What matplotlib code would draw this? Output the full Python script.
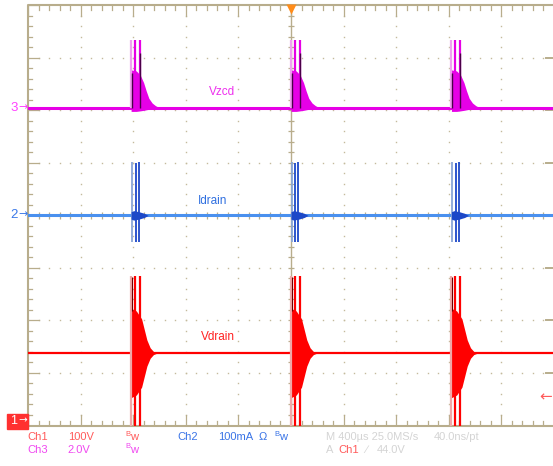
import numpy as np
import matplotlib.pyplot as plt

# Oscilloscope screen: 10 x 8 divisions, 400 us/div
us_per_div = 400
burst_starts_us = [-1216, 0, 1220]

# channel baselines, in screen divisions from the centre
ch3_level = 2.05
ch2_level = 0.0
ch1_level = -2.62

# Vzcd (Ch3) burst, heights in div above its baseline, times in us after burst start
vzcd_env_t = [0, 40, 70, 95, 115, 135, 160, 185, 215]
vzcd_env_hi = [0.72, 0.70, 0.62, 0.48, 0.32, 0.18, 0.09, 0.04, 0.0]
vzcd_env_lo = [-0.07, -0.07, -0.06, -0.05, -0.04, -0.03, -0.02, -0.01, 0.0]
vzcd_spike_t = [0, 30, 65]
vzcd_spike_hi = [1.29, 1.29, 1.29]
vzcd_dark_t = [8, 65]
vzcd_dark_hi = [0.67, 1.05]

# Idrain (Ch2) burst
idrain_spike_t = [4, 34, 57]
idrain_spike_hi = [1.02, 1.0, 1.02]
idrain_spike_lo = [-0.5, -0.5, -0.5]
idrain_blob_t = [0, 20, 60, 100, 130]
idrain_blob_hi = [0.07, 0.09, 0.07, 0.04, 0.0]

# Vdrain (Ch1) burst
vdrain_spike_t = [0, 30, 65]
vdrain_spike_hi = [1.47, 1.47, 1.47]
vdrain_spike_lo = [-1.45, -1.45, -1.45]
vdrain_env_t = [0, 40, 80, 100, 120, 145, 170, 200]
vdrain_env_hi = [0.85, 0.80, 0.65, 0.45, 0.25, 0.10, 0.03, 0.0]
vdrain_env_lo = [-0.85, -0.80, -0.65, -0.45, -0.25, -0.10, -0.03, 0.0]

W, H = 553, 466
grid_col = '#b8ad8c'
dot_col = '#c4ba9c'
magenta = '#e600e6'
blue_base = '#4a90ee'
blue_dark = '#1c48c8'
red = '#ff0000'


def fx(px):
    return px / W


def fy(py):
    return 1 - py / H


fig = plt.figure(figsize=(W / 100, H / 100), dpi=100)
ax = fig.add_axes([fx(28), fy(425.5), (554 - 28) / W, (425.5 - 5.3) / H])
ax.set_xlim(-5, 5)
ax.set_ylim(-4, 4)
ax.axis('off')

# graticule
minor = np.arange(-5, 5.001, 0.2)
minor_y = np.arange(-4, 4.001, 0.2)
for xv in range(-4, 5):
    if xv == 0:
        continue
    ax.plot(np.full_like(minor_y, xv), minor_y, 's', ms=1.0, color=dot_col, mec='none')
for yv in range(-3, 4):
    if yv == 0:
        continue
    ax.plot(minor, np.full_like(minor, yv), 's', ms=1.0, color=dot_col, mec='none')
ax.axvline(0, color=grid_col, lw=1)
ax.axhline(0, color=grid_col, lw=1)
ax.hlines(minor_y, -0.065, 0.065, color=grid_col, lw=0.9)
ax.vlines(minor, -0.065, 0.065, color=grid_col, lw=0.9)
# border with ticks
ax.plot([5, -5, -5, 5], [4, 4, -4, -4], color=grid_col, lw=1.5, clip_on=False)
for v in minor:
    ln = 0.2 if abs(v - round(v)) < 1e-6 else 0.08
    ax.plot([v, v], [4, 4 - ln], color=grid_col, lw=0.9)
    ax.plot([v, v], [-4, -4 + ln], color=grid_col, lw=0.9)
for v in minor_y:
    major = abs(v - round(v)) < 1e-6
    ln = 0.2 if major else 0.08
    ax.plot([-5, -5 + ln], [v, v], color=grid_col, lw=0.9)
    if major:
        ax.plot([5, 5 - 0.15], [v, v], color=grid_col, lw=1.4)

# baselines
ax.plot([-5, 5], [ch3_level, ch3_level], color=magenta, lw=2.2, zorder=3)
ax.plot([-5, 5], [ch2_level, ch2_level], color=blue_base, lw=2.2, zorder=3)
ax.plot([-5, 5], [ch1_level, ch1_level], color=red, lw=1.6, zorder=3)

for t0 in burst_starts_us:
    # Vzcd
    xs = (t0 + np.array(vzcd_env_t)) / us_per_div
    ax.fill_between(xs, ch3_level + np.array(vzcd_env_lo), ch3_level + np.array(vzcd_env_hi),
                    color=magenta, lw=0, zorder=4)
    for i, (t, h) in enumerate(zip(vzcd_spike_t, vzcd_spike_hi)):
        c = '#f0a0f0' if i == 0 else magenta
        ax.vlines((t0 + t) / us_per_div, ch3_level, ch3_level + h, color=c, lw=1.6, zorder=4)
    for t, h in zip(vzcd_dark_t, vzcd_dark_hi):
        ax.vlines((t0 + t) / us_per_div, ch3_level, ch3_level + h, color='#4a0048', lw=1.0, zorder=5)

    # Idrain
    for i, (t, hi, lo) in enumerate(zip(idrain_spike_t, idrain_spike_hi, idrain_spike_lo)):
        c = '#8aa6d8' if i == 0 else blue_dark
        ax.vlines((t0 + t) / us_per_div, ch2_level + lo, ch2_level + hi, color=c, lw=1.3, zorder=4)
    xs = (t0 + np.array(idrain_blob_t)) / us_per_div
    ax.fill_between(xs, ch2_level - np.array(idrain_blob_hi), ch2_level + np.array(idrain_blob_hi),
                    color=blue_dark, lw=0, zorder=5)

    # Vdrain
    xs = (t0 + np.array(vdrain_env_t)) / us_per_div
    ax.fill_between(xs, ch1_level + np.array(vdrain_env_lo), ch1_level + np.array(vdrain_env_hi),
                    color=red, lw=0, zorder=4)
    for i, (t, hi, lo) in enumerate(zip(vdrain_spike_t, vdrain_spike_hi, vdrain_spike_lo)):
        c = '#f0a8a8' if i == 0 else red
        ax.vlines((t0 + t) / us_per_div, ch1_level + lo, ch1_level + hi, color=c, lw=1.6, zorder=4)
    ax.vlines((t0 + 4) / us_per_div, ch1_level + 0.8, ch1_level + 1.45, color='#700000', lw=0.8, zorder=5)

# trace labels
font = 'Liberation Sans'
ax.text(-1.31, 2.35, 'Vzcd', color='#ee30ee', fontsize=8.5, family=font, ha='center', va='center')
ax.text(-1.49, 0.27, 'Idrain', color='#2f6fe0', fontsize=8.5, family=font, ha='center', va='center')
ax.text(-1.39, -2.32, 'Vdrain', color='#ff2020', fontsize=8.5, family=font, ha='center', va='center')

# trigger markers
ax.plot(0, 3.93, marker='v', ms=7, color='#ff8c1a', mec='none', clip_on=False, zorder=6)
fig.text(fx(546), fy(397), '\u2190', color='#ff5a5a', fontsize=11, ha='center', va='center')

# channel ground markers
fig.text(fx(14), fy(108), '3', color='#ff40ff', fontsize=9.5, family=font, ha='center', va='center')
fig.text(fx(23), fy(107), '\u2192', color='#ff40ff', fontsize=8, ha='center', va='center')
fig.text(fx(14), fy(215), '2', color='#3a78e8', fontsize=9.5, family=font, ha='center', va='center')
fig.text(fx(23), fy(214), '\u2192', color='#3a78e8', fontsize=8, ha='center', va='center')
fig.patches.append(plt.Rectangle((fx(7), fy(428.5)), (28 - 7) / W, 15 / H, transform=fig.transFigure,
                                 color='#ff3030', zorder=1))
fig.text(fx(14), fy(421), '1', color='white', fontsize=9, family=font, ha='center', va='center')
fig.text(fx(23), fy(420), '\u2192', color='white', fontsize=7.5, ha='center', va='center')

# readout
ch1_col = '#ff5a5a'
ch3_col = '#f048f0'
ch2_col = '#3a74e6'
gray = '#d4d4d4'
row1, row2 = 437, 450


def label(px, py, s, c):
    fig.text(fx(px), fy(py), s, color=c, fontsize=8, family=font, ha='left', va='center')


def bw(px, py, c):
    fig.text(fx(px), fy(py - 3), 'B', color=c, fontsize=5.5, family=font, ha='left', va='center')
    fig.text(fx(px + 5), fy(py), 'w', color=c, fontsize=8, family=font, ha='left', va='center')


label(27, row1, 'Ch1', ch1_col)
label(68, row1, '100V', ch1_col)
bw(125, row1, ch1_col)
label(177, row1, 'Ch2', ch2_col)
label(218, row1, '100mA', ch2_col)
label(259, row1, '\u03a9', ch2_col)
bw(274, row1, ch2_col)
label(326, row1, 'M 400\u00b5s 25.0MS/s', gray)
label(434, row1, '40.0ns/pt', gray)
label(27, row2, 'Ch3', ch3_col)
label(67, row2, '2.0V', ch3_col)
bw(125, row2, ch3_col)
label(326, row2, 'A', gray)
label(338, row2, 'Ch1', ch1_col)
label(365, row2, '\u2215', gray)
label(377, row2, '44.0V', gray)

fig.savefig('out.png', dpi=100)
